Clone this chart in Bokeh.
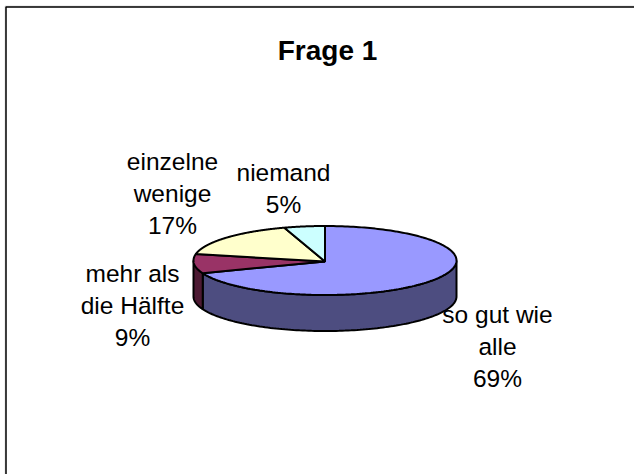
import numpy as np
from bokeh.embed import file_html
from bokeh.resources import INLINE
from bokeh.models import Range1d
from bokeh.plotting import figure
from bokeh.core.properties import value

TITLE = "Frage 1"
CATEGORIES = ["so gut wie alle", "mehr als die Hälfte", "einzelne wenige", "niemand"]
PERCENT = [69, 9, 17, 5]
TOP_COLORS = ["#9999FF", "#993366", "#FFFFCC", "#CCFFFF"]
SIDE_COLORS = ["#4D4D80", "#4D1A33", "#808066", "#668080"]
LABEL_LINES = [["so gut wie", "alle", "69%"], ["mehr als", "die Hälfte", "9%"],
               ["einzelne", "wenige", "17%"], ["niemand", "5%"]]
LABEL_X = [497, 132, 172, 283]
LABEL_Y = [314, 273, 161, 172]

CX, CY, A, B, DEPTH = 324.5, 260.0, 131.5, 34.5, 36.0
LEFT, TOP = 4, 5
W, H = 630, 469
LINE_STEP = 32

p = figure(width=W, height=H, output_backend="svg", toolbar_location=None,
           x_range=Range1d(LEFT, LEFT + W), y_range=Range1d(TOP + H, TOP),
           min_border=0, margin=(TOP, 0, 0, LEFT))
p.xaxis.visible = False
p.yaxis.visible = False
p.grid.visible = False
p.outline_line_color = None
p.background_fill_color = "white"

# frame (only left and top are on the page)
p.line([LEFT + 0.5, LEFT + 0.5, LEFT + W], [TOP + H, TOP + 0.5, TOP + 0.5], line_color="#c8c8c8", line_width=1)
p.line([LEFT + 1.5, LEFT + 1.5, LEFT + W], [TOP + H, TOP + 1.5, TOP + 1.5], line_color="black", line_width=1.5)

def ex(t):
    return CX + A * np.sin(t)
def ey(t):
    return CY - B * np.cos(t)

fracs = np.array(PERCENT, dtype=float) / sum(PERCENT)
ends = np.cumsum(fracs) * 2 * np.pi
starts = np.concatenate([[0.0], ends[:-1]])

# side walls: visible front half only (pi/2 .. 3pi/2)
for s, e, c in zip(starts, ends, SIDE_COLORS):
    lo, hi = max(s, np.pi / 2), min(e, 3 * np.pi / 2)
    if hi <= lo:
        continue
    t = np.linspace(lo, hi, 120)
    xs = np.concatenate([ex(t), ex(t[::-1])])
    ys = np.concatenate([ey(t), ey(t[::-1]) + DEPTH])
    p.patch(xs, ys, fill_color=c, line_color="black", line_width=2)

# top faces
for s, e, c in zip(starts, ends, TOP_COLORS):
    t = np.linspace(s, e, 200)
    xs = np.concatenate([[CX], ex(t)])
    ys = np.concatenate([[CY + 1], ey(t)])
    p.patch(xs, ys, fill_color=c, line_color="black", line_width=2)

# title
p.text([327], [50], text=[TITLE], text_font=value("Liberation Sans"), text_font_size="28px",
       text_font_style="bold", text_align="center", text_baseline="middle", text_color="black")

# labels
for lines, x0, y0 in zip(LABEL_LINES, LABEL_X, LABEL_Y):
    ys = [y0 + i * LINE_STEP for i in range(len(lines))]
    p.text([x0] * len(lines), ys, text=lines, text_font=value("Liberation Sans"), text_font_size="24.5px",
           text_align="center", text_baseline="middle", text_color="black")

open("out.html", "w").write(file_html(p, INLINE))
